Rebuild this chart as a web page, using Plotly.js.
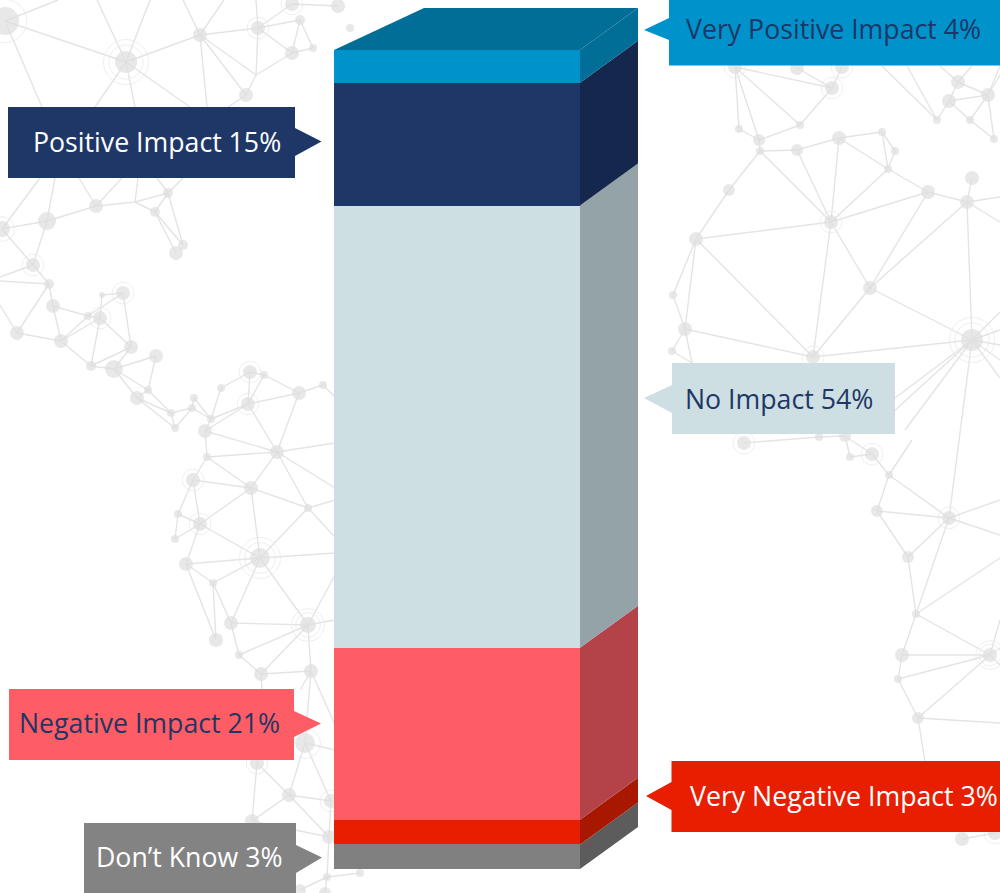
<!DOCTYPE html>
<html>
<head>
<meta charset="utf-8">
<script src="https://cdn.plot.ly/plotly-3.0.1.min.js"></script>
<style>html,body{margin:0;padding:0;background:#fff}#chart{width:1000px;height:893px}</style>
</head>
<body>
<div id="chart"></div>
<script>
// ---- chart data (bottom of the stack first) ----
const categories = ["Don’t Know", "Very Negative Impact", "Negative Impact", "No Impact", "Positive Impact", "Very Positive Impact"];
const shares = [3, 3, 21, 54, 15, 4];
const frontColors = ["#808080", "#e81e00", "#ff5d65", "#cddfe3", "#1e3766", "#0093cb"];
const sideColors = ["#5c5c5c", "#a81700", "#b34349", "#94a3a7", "#15274d", "#006e96"];
const topColor = "#006e96";

// ---- background network: nodes ----
const nodeX = [5,126,200,258,300,292,313,246,292,338,350,96,47,2,33,49,53,17,61,88,100,102,123,131,156,114,91,148,137,171,175,192,194,211,205,221,248,250,264,299,323,277,168,155,176,183,207,193,251,308,178,200,175,260,186,213,231,308,216,239,261,311,305,257,289,331,252,329,327,300,325,360,
  735,797,842,832,800,739,759,760,797,839,882,895,888,928,972,967,729,831,696,870,673,685,672,813,972,958,949,988,937,970,994,744,819,845,850,872,889,877,949,908,916,990,902,898,918,962,995,135,256];
const nodeY = [21,62,35,28,20,53,48,95,4,6,28,206,221,229,265,284,306,333,341,316,318,295,293,347,356,369,366,390,398,413,428,408,398,419,431,388,404,372,375,393,385,452,193,212,253,245,457,480,488,508,514,524,539,558,564,583,623,625,640,655,674,671,743,763,795,801,821,837,877,890,893,873,
  67,68,67,88,125,129,140,151,150,138,132,151,169,192,178,202,190,222,239,288,295,329,351,357,340,82,101,95,120,120,139,443,437,436,457,454,475,511,518,557,614,655,655,679,718,839,833,202,75];
const nodeR = [14,11,7,7,5,7,4,7,7,7,4,7,9,8,7,5,7,7,7,4,7,3,7,7,7,9,5,4,7,4,4,4,4,4,7,4,7,7,4,7,4,7,5,5,7,5,4,7,7,4,4,7,4,10,7,4,7,8,7,4,7,7,10,7,7,7,7,7,4,6,6,4,
  7,7,7,7,4,4,6,4,6,7,4,4,4,7,7,7,6,7,7,7,4,7,4,7,11,7,7,7,4,4,4,7,4,6,4,7,4,6,7,6,4,7,7,4,6,7,7,0,0];
const ringIndex = [0,1,3,8,13,14,20,22,36,37,47,51,53,57,62,63,65,72,74,75,89,95,96,103,107,110,113,118];
const doubleRingIndex = [1,53,57,96,113];

// ---- background network: links (node index, or free end that runs off or under something) ----
const links = [
 [0,1],[0,[58,0]],[0,[42,107]],[1,2],[1,[97,0]],[1,[150,0]],[1,[95,107]],[1,[135,107]],[1,[190,107]],
 [2,[183,0]],[2,[224,0]],[2,3],[2,7],[2,[207,107]],[2,120],[7,120],[120,5],[3,120],[3,5],[3,4],[3,8],[4,5],[4,6],[5,6],[3,[256,0]],[7,[228,107]],[8,9],
 [13,[40,178]],[12,[55,178]],[11,[79,178]],[11,[122,178]],[119,[138,178]],[42,[157,178]],[42,[183,178]],
 [11,12],[11,119],[119,42],[119,43],[42,43],[42,45],[43,44],[43,45],[12,13],[12,14],[13,14],[14,15],[14,[0,277]],[15,[0,281]],[15,16],[15,17],
 [16,19],[16,18],[17,18],[17,[0,305]],[18,20],[18,19],[19,20],[18,26],[26,25],[20,21],[19,22],[21,22],[22,23],[20,23],[20,26],[26,23],[25,23],[25,24],[24,27],[25,27],[25,28],[27,28],
 [27,29],[28,29],[28,30],[29,30],[29,31],[31,32],[31,33],[32,33],[30,31],[33,34],[33,36],[34,36],[33,35],[35,37],[36,37],[36,38],[37,38],[38,39],[36,39],[39,40],[36,41],[39,41],[40,[336,398]],
 [34,41],[34,46],[41,46],[41,48],[41,49],[41,[335,443]],[46,47],[46,48],[47,48],[47,51],[47,50],[48,51],[48,53],[48,49],[49,53],[49,[335,500]],[49,[335,537]],[41,[335,488]],
 [50,51],[50,52],[51,52],[51,54],[53,54],[53,51],[53,[335,553]],[53,55],[53,56],[53,57],[54,55],[54,58],[55,56],[55,58],[56,57],[56,59],[57,59],[57,60],[57,61],[57,[335,575]],[57,[335,620]],
 [59,60],[60,61],[61,62],[60,[262,690]],[61,[335,725]],[61,[300,690]],[62,[335,750]],[62,64],[62,65],[63,64],[63,66],[64,65],[64,66],[64,67],[66,67],[67,68],[68,69],[68,70],[68,71],[65,67],[63,[257,690]],
 [72,75],[72,78],[72,76],[72,77],[73,75],[74,75],[75,76],[76,78],[77,78],[79,80],[78,79],[80,81],[81,82],[79,89],[79,88],[80,89],[81,89],[81,84],[82,83],[82,84],[83,84],[84,85],[85,87],[86,87],[87,[1000,197]],[87,[1000,222]],[85,89],[85,91],[87,91],[87,96],[84,89],
 [88,90],[89,90],[89,91],[89,95],[90,92],[90,93],[90,95],[91,95],[91,96],[92,93],[93,94],[93,95],[94,[692,363]],[93,[692,363]],[95,96],
 [96,[1000,330]],[96,[1000,345]],[96,[1000,360]],[96,[1000,378]],[96,[1000,312]],[96,[895,398]],[96,[870,433]],[96,[905,430]],[96,110],
 [100,[882,66]],[100,[907,66]],[97,[940,66]],[97,[972,66]],[97,99],[98,99],[97,98],[98,101],[99,101],[99,102],[101,102],[98,100],[99,[1000,66]],[99,[1000,75]],
 [103,104],[104,105],[105,106],[106,107],[105,107],[107,108],[108,110],[108,109],[109,110],[109,111],[110,111],[110,112],[110,[1000,500]],[110,[1000,535]],[108,[912,440]],
 [111,112],[112,113],[112,[1000,558]],[112,114],[114,115],[114,113],[115,113],[115,116],[113,116],[116,[1000,723]],[116,[925,761]],[113,[1000,620]],[113,[1000,648]],[113,[1000,665]],[117,118],[118,[1000,825]]
];

// ---- callouts, in stack order ----
const labelInk = ["#ffffff", "#ffffff", "#1e3766", "#1e3766", "#ffffff", "#1e3766"];
const labelFill = ["#838383", "#e81e00", "#ff5d65", "#cddfe3", "#1e3766", "#0093cb"];
const labelBox = [[84,296,823,893],[671.5,1000,761,832],[9,294,689,760],[672,895,363,434],[8,295,107,178],[669,1000,0,65.5]];
const labelTip = [[322,857.5,845,873],[646,796,782,810],[321,723.5,711,737],[644,398,385,413],[321.5,141.5,128,156],[644,30,18,40]];
const labelTextCentre = [[188.5,856],[843.5,795],[149.5,722],[778.5,398],[156.5,141],[833,28]];

// ---- geometry of the block ----
const frontLeft = 334, frontRight = 580, sideRight = 638, backLeft = 424;
const depthUnits = 42 / 8.19;                 // rise of the receding edge, in share units
const pxPerUnit = 8.19, baselinePx = 869, pageH = 893;

// background traces
const lx = [], ly = [];
const pt = p => Array.isArray(p) ? p : [nodeX[p], nodeY[p]];
links.forEach(([a, b]) => { const A = pt(a), B = pt(b); lx.push(A[0], B[0], null); ly.push(A[1], B[1], null); });
const traces = [{
  type: "scatter", mode: "lines", x: lx, y: ly, hoverinfo: "skip",
  line: {color: "#e4e4e4", width: 1.4}
}];
const ringTrace = (idx, mult) => ({
  type: "scatter", mode: "markers", hoverinfo: "skip",
  x: idx.map(i => nodeX[i]), y: idx.map(i => nodeY[i]),
  marker: {size: idx.map(i => nodeR[i] * mult * 2), color: "rgba(0,0,0,0)", line: {color: "#e9e9e9", width: 1}}
});
traces.push(ringTrace(ringIndex, 1.55));
traces.push(ringTrace(doubleRingIndex, 2.05));
traces.push({
  type: "scatter", mode: "markers", hoverinfo: "skip",
  x: nodeX, y: nodeY,
  marker: {size: nodeR.map(r => r * 2), color: "#dedede", line: {width: 0}}
});

// front faces: a real stacked bar
categories.forEach((name, i) => traces.push({
  type: "bar", name, x: [(frontLeft + frontRight) / 2], y: [shares[i]], width: [frontRight - frontLeft],
  xaxis: "x2", yaxis: "y2", marker: {color: frontColors[i], line: {width: 0}},
  hovertemplate: name + ": %{y}%<extra></extra>"
}));

// side faces from the cumulative shares
let base = 0;
shares.forEach((v, i) => {
  const t = base + v;
  traces.push({
    type: "scatter", mode: "lines", fill: "toself", fillcolor: sideColors[i], hoverinfo: "skip",
    line: {width: 0, color: sideColors[i]}, xaxis: "x2", yaxis: "y2",
    x: [frontRight, sideRight, sideRight, frontRight, frontRight],
    y: [base, base + depthUnits, t + depthUnits, t, base]
  });
  base = t;
});
// top face
traces.push({
  type: "scatter", mode: "lines", fill: "toself", fillcolor: topColor, hoverinfo: "skip",
  line: {width: 0, color: topColor}, xaxis: "x2", yaxis: "y2",
  x: [frontLeft, backLeft, sideRight, frontRight, frontLeft],
  y: [base, base + depthUnits, base + depthUnits, base, base]
});

// callout shapes and text
const shapes = labelBox.map((b, i) => {
  const [x0, x1, y0, y1] = b, [tx, ty, b0, b1] = labelTip[i];
  const onRight = tx > x1;
  const path = `M${x0},${y0} L${x1},${y0} ` + (onRight
    ? `L${x1},${b0} L${tx},${ty} L${x1},${b1} L${x1},${y1} L${x0},${y1} Z`
    : `L${x1},${y1} L${x0},${y1} L${x0},${b1} L${tx},${ty} L${x0},${b0} Z`);
  return {type: "path", path, xref: "x", yref: "y", layer: "above", fillcolor: labelFill[i], line: {width: 0}};
});
const annotations = categories.map((name, i) => ({
  xref: "x", yref: "y", x: labelTextCentre[i][0], y: labelTextCentre[i][1],
  text: name + " " + shares[i] + "%", showarrow: false, xanchor: "center", yanchor: "middle",
  font: {family: "'Open Sans', sans-serif", size: 26.7, color: labelInk[i]}
}));

const hidden = {visible: false, showgrid: false, zeroline: false, fixedrange: true};
const layout = {
  width: 1000, height: 893, margin: {l: 0, r: 0, t: 0, b: 0, pad: 0},
  paper_bgcolor: "#ffffff", plot_bgcolor: "#ffffff", showlegend: false, barmode: "stack",
  xaxis: {...hidden, range: [0, 1000], domain: [0, 1]},
  yaxis: {...hidden, range: [pageH, 0], domain: [0, 1]},
  xaxis2: {...hidden, range: [0, 1000], overlaying: "x", anchor: "y2"},
  yaxis2: {...hidden, range: [(baselinePx - pageH) / pxPerUnit, baselinePx / pxPerUnit], overlaying: "y", anchor: "x2"},
  shapes, annotations
};
Plotly.newPlot("chart", traces, layout, {displayModeBar: false});
</script>
</body>
</html>
